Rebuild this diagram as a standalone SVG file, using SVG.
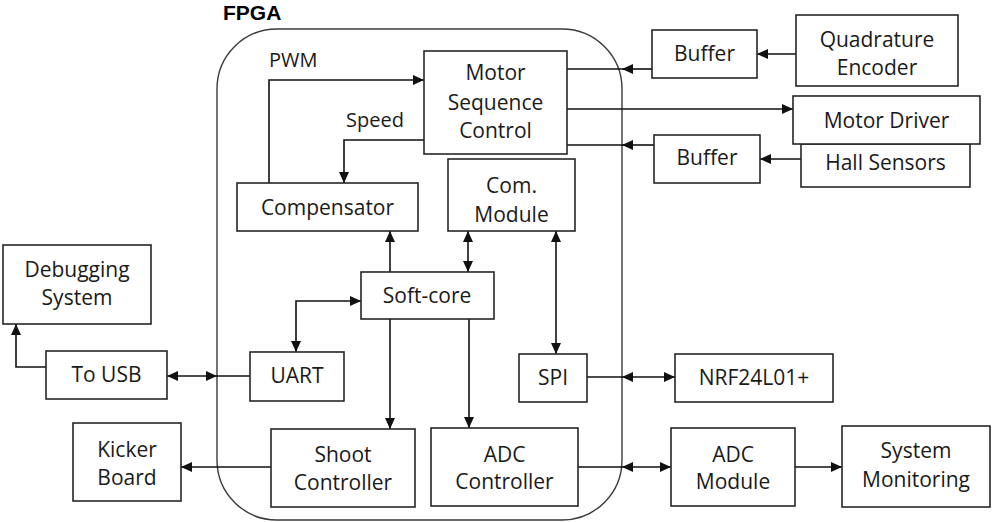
<svg xmlns="http://www.w3.org/2000/svg" width="993" height="522" viewBox="0 0 993 522">
<style>
  .box { fill: #ffffff; stroke: #262626; stroke-width: 1.6; }
  .fpga { fill: none; stroke: #3a3a3a; stroke-width: 1.4; }
  .t { font-family: "Open Sans", "Liberation Sans", sans-serif; font-size: 21px; fill: #1a1a1a; text-anchor: middle; }
  .lbl { font-family: "Open Sans", "Liberation Sans", sans-serif; font-size: 20px; fill: #1a1a1a; }
  .title { font-family: "Liberation Sans", "Open Sans", sans-serif; font-size: 21px; font-weight: bold; fill: #000; }
  .c { fill: none; stroke: #111; stroke-width: 1.6; }
  .a { marker-end: url(#ah); }
  .aa { marker-start: url(#ah); marker-end: url(#ah); }
</style>
<defs>
  <marker id="ah" viewBox="0 0 11 10" refX="11" refY="5" markerWidth="11" markerHeight="10" markerUnits="userSpaceOnUse" orient="auto-start-reverse">
    <path d="M0,0 L11,5 L0,10 z" fill="#111"/>
  </marker>
</defs>

<g id="fpga">
  <rect class="fpga" x="217" y="29" width="405" height="491" rx="60" ry="60"/>
  <text class="title" x="223" y="20">FPGA</text>
</g>

<g id="connectors">
  <path class="c a" d="M269,183 V80 H424"/>
  <path class="c a" d="M424,140 H344 V183"/>
  <path class="c a" d="M390,272 V231"/>
  <path class="c aa" d="M468,272 V231"/>
  <path class="c aa" d="M556,231 V354"/>
  <path class="c aa" d="M361,301 H296 V352"/>
  <path class="c" d="M250,376 H217"/>
  <path class="c aa" d="M167,376 H217"/>
  <path class="c a" d="M46,367 H16 V324"/>
  <path class="c a" d="M390,319 V429"/>
  <path class="c a" d="M469,319 V428"/>
  <path class="c a" d="M271,467 H181"/>
  <path class="c" d="M587,377 H622"/>
  <path class="c aa" d="M622,377 H675"/>
  <path class="c" d="M578,467 H622"/>
  <path class="c aa" d="M622,467 H671"/>
  <path class="c a" d="M795,467 H842"/>
  <path class="c" d="M622,69 H567"/>
  <path class="c a" d="M652,69 H622"/>
  <path class="c a" d="M796,54 H757"/>
  <path class="c a" d="M567,109 H793"/>
  <path class="c" d="M622,145 H567"/>
  <path class="c a" d="M654,145 H622"/>
  <path class="c a" d="M801,159 H760"/>
  <text class="lbl" x="269" y="67">PWM</text>
  <text class="lbl" x="346" y="127">Speed</text>
</g>

<g id="motor-sequence-control">
  <rect class="box" x="424" y="51" width="143" height="103"/>
  <text class="t" x="495.5" y="80">Motor</text>
  <text class="t" x="495.5" y="110">Sequence</text>
  <text class="t" x="495.5" y="138">Control</text>
</g>
<g id="com-module">
  <rect class="box" x="448" y="159" width="127" height="72"/>
  <text class="t" x="511.5" y="193">Com.</text>
  <text class="t" x="511.5" y="222">Module</text>
</g>
<g id="compensator">
  <rect class="box" x="237" y="183" width="181" height="48"/>
  <text class="t" x="327.5" y="215">Compensator</text>
</g>
<g id="soft-core">
  <rect class="box" x="361" y="272" width="133" height="47"/>
  <text class="t" x="427" y="303">Soft-core</text>
</g>
<g id="uart">
  <rect class="box" x="250" y="352" width="94" height="49"/>
  <text class="t" x="297" y="383">UART</text>
</g>
<g id="spi">
  <rect class="box" x="519" y="354" width="68" height="48"/>
  <text class="t" x="553" y="385">SPI</text>
</g>
<g id="shoot-controller">
  <rect class="box" x="271" y="429" width="144" height="78"/>
  <text class="t" x="343" y="462">Shoot</text>
  <text class="t" x="343" y="490">Controller</text>
</g>
<g id="adc-controller">
  <rect class="box" x="431" y="428" width="147" height="78"/>
  <text class="t" x="504.5" y="462">ADC</text>
  <text class="t" x="504.5" y="489">Controller</text>
</g>
<g id="debugging-system">
  <rect class="box" x="3" y="245" width="148" height="79"/>
  <text class="t" x="77" y="277">Debugging</text>
  <text class="t" x="77" y="305">System</text>
</g>
<g id="to-usb">
  <rect class="box" x="46" y="351" width="121" height="48"/>
  <text class="t" x="106.5" y="382">To USB</text>
</g>
<g id="kicker-board">
  <rect class="box" x="73" y="423" width="108" height="78"/>
  <text class="t" x="127" y="457">Kicker</text>
  <text class="t" x="127" y="485">Board</text>
</g>
<g id="nrf24l01">
  <rect class="box" x="675" y="354" width="158" height="48"/>
  <text class="t" x="754" y="385">NRF24L01+</text>
</g>
<g id="adc-module">
  <rect class="box" x="671" y="428" width="124" height="78"/>
  <text class="t" x="733" y="462">ADC</text>
  <text class="t" x="733" y="489">Module</text>
</g>
<g id="system-monitoring">
  <rect class="box" x="842" y="426" width="148" height="81"/>
  <text class="t" x="916" y="458">System</text>
  <text class="t" x="916" y="487">Monitoring</text>
</g>
<g id="buffer-1">
  <rect class="box" x="652" y="30" width="105" height="48"/>
  <text class="t" x="704.5" y="61">Buffer</text>
</g>
<g id="quadrature-encoder">
  <rect class="box" x="796" y="15" width="162" height="71"/>
  <text class="t" x="877" y="47">Quadrature</text>
  <text class="t" x="877" y="75">Encoder</text>
</g>
<g id="hall-sensors">
  <rect class="box" x="801" y="144" width="169" height="43"/>
  <text class="t" x="885.5" y="170">Hall Sensors</text>
</g>
<g id="motor-driver">
  <rect class="box" x="793" y="96" width="187" height="48"/>
  <text class="t" x="886.5" y="128">Motor Driver</text>
</g>
<g id="buffer-2">
  <rect class="box" x="654" y="135" width="106" height="48"/>
  <text class="t" x="707" y="165">Buffer</text>
</g>
</svg>
